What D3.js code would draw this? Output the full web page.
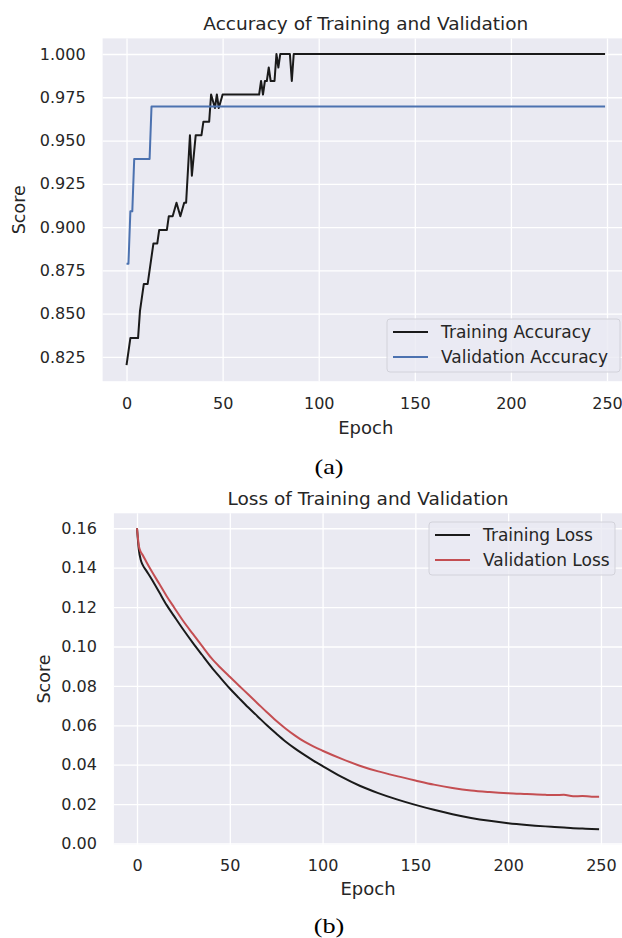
<!DOCTYPE html>
<html>
<head>
<meta charset="utf-8">
<script src="https://cdn.jsdelivr.net/npm/d3@7"></script>
<style>
body { margin: 0; background: #fff; overflow: hidden; }
svg text { font-family: "DejaVu Sans", sans-serif; fill: #262626; }
svg text.cap { font-family: "Liberation Serif", "Times New Roman", serif; fill: #000; }
</style>
</head>
<body>
<script>
// (a) accuracy, stored at the epochs where the value changes
var trainAccEpoch = [0, 1, 2, 6, 7, 9, 11, 14, 16, 17, 21, 22, 24, 26, 28, 30, 31, 33, 34, 36, 39, 40, 43, 44, 46, 47, 48, 50,
                     69, 70, 71, 72, 73, 74, 75, 77, 78, 79, 80, 85, 86, 87, 249];
var trainAcc = [0.8203, 0.8281, 0.8359, 0.8359, 0.8516, 0.8672, 0.8672, 0.8906, 0.8906, 0.8984, 0.8984, 0.9063, 0.9063, 0.9141,
                0.9063, 0.9141, 0.9141, 0.9531, 0.9297, 0.9531, 0.9531, 0.9609, 0.9609, 0.9766, 0.9688, 0.9766, 0.9688, 0.9766,
                0.9766, 0.9844, 0.9766, 0.9844, 0.9844, 0.9922, 0.9844, 0.9844, 1.0, 0.9922, 1.0, 1.0, 0.9844, 1.0, 1.0];
var valAccEpoch = [0, 1, 2, 3, 4, 12, 13, 249];
var valAcc = [0.8788, 0.8788, 0.9091, 0.9091, 0.9394, 0.9394, 0.9697, 0.9697];

// (b) loss
var lossEpoch = [0, 1, 2, 3, 5, 8, 12, 16, 20, 25, 30, 35, 40, 45, 50, 55, 60, 65, 70, 75, 80, 85, 90, 95, 100,
                 110, 120, 130, 140, 150, 160, 170, 180, 190, 200, 210, 220, 225, 230, 235, 240, 245, 249];
var trainLoss = [0.1600, 0.1490, 0.1440, 0.1415, 0.1385, 0.1340, 0.1275, 0.1210, 0.1154, 0.1085, 0.1020, 0.0958, 0.0897,
                 0.0841, 0.0787, 0.0738, 0.0690, 0.0645, 0.0600, 0.0558, 0.0518, 0.0483, 0.0451, 0.0421, 0.0393,
                 0.0339, 0.0293, 0.0256, 0.0224, 0.0196, 0.0171, 0.0149, 0.0130, 0.0115, 0.0103, 0.0094, 0.0087,
                 0.0084, 0.0081, 0.0078, 0.0076, 0.0074, 0.0072];
var valLoss = [0.1600, 0.1510, 0.1480, 0.1465, 0.1430, 0.1380, 0.1318, 0.1255, 0.1198, 0.1128, 0.1065, 0.1003, 0.0942,
               0.0892, 0.0846, 0.0801, 0.0756, 0.0711, 0.0666, 0.0623, 0.0584, 0.0549, 0.0518, 0.0493, 0.0471,
               0.0431, 0.0395, 0.0366, 0.0342, 0.0320, 0.0299, 0.0282, 0.0269, 0.0261, 0.0255, 0.0251, 0.0247,
               0.0246, 0.0247, 0.0240, 0.0241, 0.0238, 0.0238];

var epochTicks = [0, 50, 100, 150, 200, 250];
var accTicks = [0.825, 0.850, 0.875, 0.900, 0.925, 0.950, 0.975, 1.000];
var lossTicks = [0.00, 0.02, 0.04, 0.06, 0.08, 0.10, 0.12, 0.14, 0.16];

var svg = d3.select("body").append("svg")
    .attr("width", 622)
    .attr("height", 938);

function zip(xs, ys) {
  return xs.map(function(d, i) { return [d, ys[i]]; });
}

function drawPanel(p) {
  var x = d3.scaleLinear().domain([-12.45, 261.45]).range([p.left, p.right]);
  var y = d3.scaleLinear().domain(p.yDomain).range([p.bottom, p.top]);
  var g = svg.append("g");

  g.append("rect")
      .attr("x", p.left)
      .attr("y", p.top)
      .attr("width", p.right - p.left)
      .attr("height", p.bottom - p.top)
      .style("fill", "#eaeaf2");

  var xAxis = g.append("g")
      .attr("transform", "translate(0," + p.bottom + ")")
      .call(d3.axisBottom(x).tickValues(epochTicks).tickSize(-(p.bottom - p.top)).tickPadding(p.xPad));
  var yAxis = g.append("g")
      .attr("transform", "translate(" + p.left + ",0)")
      .call(d3.axisLeft(y).tickValues(p.yTicks).tickFormat(d3.format(p.yFmt))
            .tickSize(-(p.right - p.left)).tickPadding(p.yPad));

  [xAxis, yAxis].forEach(function(a) {
    a.select(".domain").remove();
    a.selectAll("line").style("stroke", "#fff").style("stroke-width", 1.3);
    a.selectAll("text").style("font-size", "16px").style("font-family", "DejaVu Sans").style("fill", "#262626");
  });

  var line = d3.line()
      .x(function(d) { return x(d[0]); })
      .y(function(d) { return y(d[1]); })
      .curve(p.curve);

  p.series.forEach(function(s) {
    g.append("path")
        .datum(s.points)
        .attr("d", line)
        .style("fill", "none")
        .style("stroke", s.color)
        .style("stroke-width", 2)
        .style("stroke-linejoin", "round");
  });

  var cx = (p.left + p.right) / 2;
  g.append("text")
      .attr("x", cx).attr("y", p.titleY)
      .attr("text-anchor", "middle").attr("dominant-baseline", "central")
      .style("font-size", "18.5px")
      .text(p.title);
  g.append("text")
      .attr("x", cx).attr("y", p.xLabelY)
      .attr("text-anchor", "middle").attr("dominant-baseline", "central")
      .style("font-size", "18px")
      .text("Epoch");
  g.append("text")
      .attr("transform", "translate(" + p.yLabelX + "," + ((p.top + p.bottom) / 2) + ") rotate(-90)")
      .attr("text-anchor", "middle").attr("dominant-baseline", "central")
      .style("font-size", "17.5px")
      .text("Score");

  // legend
  var lg = p.legend;
  g.append("rect")
      .attr("x", lg.x).attr("y", lg.y)
      .attr("width", lg.w).attr("height", lg.h)
      .attr("rx", 3)
      .style("fill", "#eaeaf2")
      .style("fill-opacity", 0.8)
      .style("stroke", "#d2d2da")
      .style("stroke-width", 1);
  p.series.forEach(function(s, i) {
    var ry = lg.y + 13 + i * 25;
    g.append("line")
        .attr("x1", lg.x + 6).attr("x2", lg.x + 41)
        .attr("y1", ry).attr("y2", ry)
        .style("stroke", s.color)
        .style("stroke-width", 2);
    g.append("text")
        .attr("x", lg.x + 54).attr("y", ry)
        .attr("dominant-baseline", "central")
        .style("font-size", "17px")
        .text(s.name);
  });

  svg.append("text")
      .attr("class", "cap")
      .attr("transform", "translate(329," + p.capY + ") scale(1.25,1)")
      .attr("text-anchor", "middle").attr("dominant-baseline", "central")
      .style("font-size", "21px")
      .text(p.cap);
}

drawPanel({
  left: 102.6, right: 629, top: 38.4, bottom: 381.2,
  yDomain: [0.811, 1.009], yTicks: accTicks, yFmt: ".3f",
  xPad: 16, yPad: 17,
  title: "Accuracy of Training and Validation", titleY: 23,
  xLabelY: 427, yLabelX: 19,
  cap: "(a)", capY: 467,
  curve: d3.curveLinear,
  legend: { x: 387, y: 319, w: 233, h: 53 },
  series: [
    { name: "Training Accuracy", color: "#1a1a1a", points: zip(trainAccEpoch, trainAcc) },
    { name: "Validation Accuracy", color: "#4c72b0", points: zip(valAccEpoch, valAcc) }
  ]
});

drawPanel({
  left: 113.9, right: 622.2, top: 513.3, bottom: 844.7,
  yDomain: [-0.0006, 0.1676], yTicks: lossTicks, yFmt: ".2f",
  xPad: 14.5, yPad: 17,
  title: "Loss of Training and Validation", titleY: 498,
  xLabelY: 888, yLabelX: 44,
  cap: "(b)", capY: 926,
  curve: d3.curveMonotoneX,
  legend: { x: 429, y: 522, w: 186, h: 53 },
  series: [
    { name: "Training Loss", color: "#1a1a1a", points: zip(lossEpoch, trainLoss) },
    { name: "Validation Loss", color: "#c44e52", points: zip(lossEpoch, valLoss) }
  ]
});
</script>
</body>
</html>
